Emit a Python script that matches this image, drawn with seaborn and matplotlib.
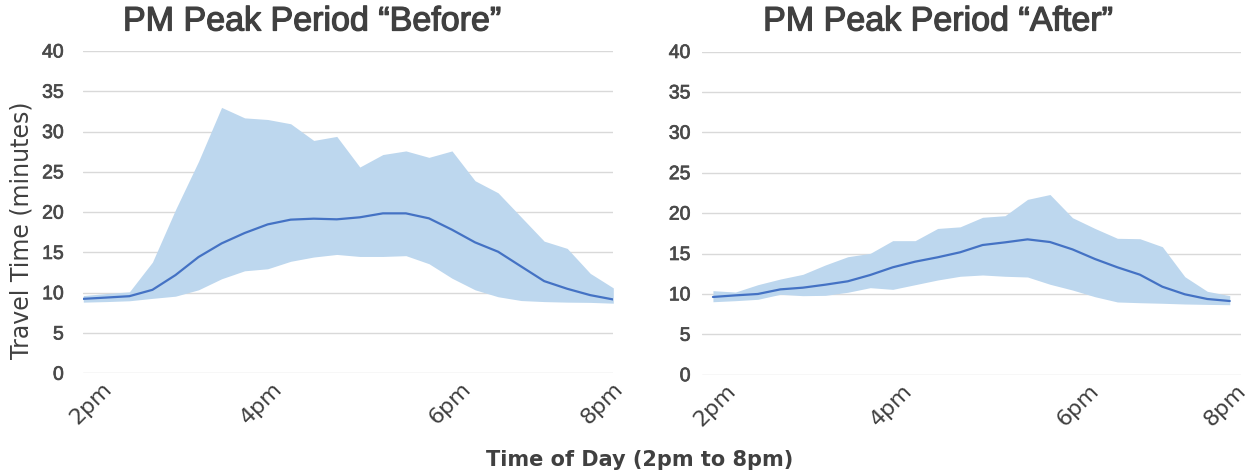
import numpy as np
import pandas as pd
import matplotlib
matplotlib.use("Agg")
import matplotlib.pyplot as plt
import matplotlib.transforms as mtransforms
import matplotlib.patheffects as pe
import seaborn as sns

# ---------------- data ----------------
periods = list(range(24))  # 15-minute intervals from 2pm to 8pm

before_mean = [9.24, 9.4, 9.57, 10.36, 12.19, 14.43, 16.12, 17.41, 18.48, 19.07, 19.19, 19.11,
               19.36, 19.85, 19.85, 19.23, 17.82, 16.25, 15.09, 13.26, 11.44, 10.49, 9.70, 9.16]
before_upper = [9.65, 9.9, 10.11, 13.8, 20.3, 26.3, 33.0, 31.7, 31.5, 30.97, 28.9, 29.4,
                25.6, 27.15, 27.6, 26.8, 27.6, 23.9, 22.4, 19.4, 16.4, 15.5, 12.4, 10.6]
before_lower = [8.83, 8.9, 9.0, 9.3, 9.57, 10.36, 11.73, 12.72, 12.97, 13.9, 14.43, 14.75,
                14.5, 14.5, 14.6, 13.6, 11.8, 10.36, 9.5, 9.03, 8.9, 8.83, 8.8, 8.7]

after_mean = [9.62, 9.82, 9.99, 10.56, 10.77, 11.14, 11.56, 12.34, 13.29, 13.99, 14.53, 15.15,
              16.05, 16.38, 16.75, 16.42, 15.51, 14.32, 13.29, 12.38, 10.89, 9.95, 9.37, 9.12]
after_upper = [10.4, 10.23, 11.14, 11.84, 12.42, 13.58, 14.6, 15.02, 16.59, 16.59, 18.1, 18.3,
               19.48, 19.68, 21.7, 22.3, 19.43, 18.1, 16.88, 16.83, 15.84, 12.13, 10.32, 9.78]
after_lower = [9.03, 9.16, 9.33, 9.95, 9.78, 9.82, 10.2, 10.77, 10.56, 11.14, 11.72, 12.18,
               12.34, 12.18, 12.09, 11.19, 10.48, 9.65, 9.0, 8.91, 8.84, 8.75, 8.7, 8.66]

tick_labels = ["2pm", "4pm", "6pm", "8pm"]
y_ticks = [0, 5, 10, 15, 20, 25, 30, 35, 40]

titles = ["PM Peak Period \u201cBefore\u201d", "PM Peak Period \u201cAfter\u201d"]
y_label = "Travel Time (minutes)"
x_label = "Time of Day (2pm to 8pm)"

# ---------------- style ----------------
sns.set_theme(style="white")
plt.rcParams["font.family"] = ["Liberation Sans", "DejaVu Sans"]

TEXT = "#4a4a4a"
DARK = "#404040"
BAND = "#BDD7EE"
LINE = "#4472C4"
GRID = "#D9D9D9"

W, H = 1255, 476
fig = plt.figure(figsize=(W / 100, H / 100), dpi=100)

ax_l = fig.add_axes([83.3 / W, (H - 373.3) / H, 530 / W, 322.3 / H])
ax_r = fig.add_axes([701.7 / W, (H - 374.7) / H, 539.3 / W, 323.2 / H])

panels = [
    (ax_l, before_mean, before_upper, before_lower, (0, 23), [0.6, 8.0, 16.2, 22.8], 14),
    (ax_r, after_mean, after_upper, after_lower, (-0.5, 23.5), [0.4, 8.24, 16.56, 23.1], 8),
]

for ax, mean, up, lo, xlim, tpos, ypad in panels:
    df = pd.DataFrame({"period": periods, "mean": mean, "upper": up, "lower": lo})
    ax.fill_between(df["period"], df["lower"], df["upper"], color=BAND, lw=0, zorder=1)
    sns.lineplot(data=df, x="period", y="mean", ax=ax, color=LINE, lw=1.6, zorder=3)
    ax.set_xlim(*xlim)
    ax.set_ylim(0, 40)
    ax.set_yticks(y_ticks)
    ax.yaxis.grid(True, color=GRID, lw=1.0, zorder=0)
    ax.xaxis.grid(False)
    ax.set_axisbelow(True)
    for s in ax.spines.values():
        s.set_visible(False)
    ax.set_xlabel("")
    ax.set_ylabel("")
    ax.tick_params(axis="y", length=0, pad=ypad, labelsize=14, labelcolor=TEXT)
    for lbl in ax.get_yticklabels():
        lbl.set_path_effects([pe.withStroke(linewidth=0.5, foreground=TEXT)])
    ax.tick_params(axis="x", length=0, pad=4, labelcolor=DARK)
    ax.set_xticks(tpos)
    ax.set_xticklabels(tick_labels, rotation=45, ha="right", rotation_mode="anchor",
                       fontsize=16, family=["DejaVu Sans"])
    offset = mtransforms.ScaledTranslation(4 / 100, 0, fig.dpi_scale_trans)
    for lbl in ax.get_xticklabels():
        lbl.set_transform(lbl.get_transform() + offset)

title_fx = [pe.withStroke(linewidth=0.9, foreground=DARK)]
fig.text(312 / W, 1 - 22 / H, titles[0], ha="center", va="center", fontsize=24.5, color=DARK,
         path_effects=title_fx)
fig.text(938 / W, 1 - 22 / H, titles[1], ha="center", va="center", fontsize=24.5, color=DARK,
         path_effects=title_fx)
fig.text(22 / W, 1 - 230 / H, y_label, ha="center", va="center", rotation=90, fontsize=17,
         color=DARK, family=["DejaVu Sans"])
fig.text(640 / W, 1 - 460 / H, x_label, ha="center", va="center", fontsize=15,
         fontweight="bold", color=DARK, family=["DejaVu Sans"])

fig.savefig("out.png", dpi=100, facecolor="white")
